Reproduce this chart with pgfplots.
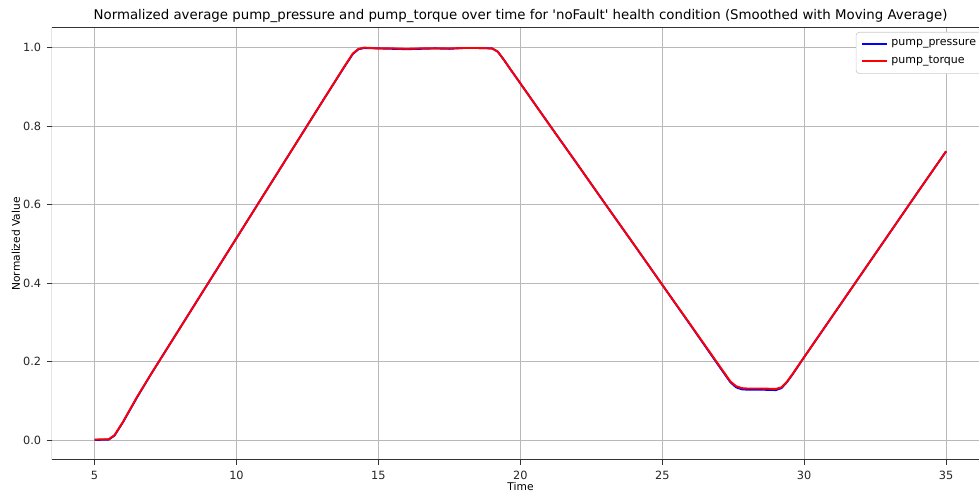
\documentclass[border=0pt]{standalone}
\usepackage{fontspec}
\setmainfont{DejaVu Sans}
\usepackage{pgfplots}
\pgfplotsset{compat=1.18}
\usepackage{pgfplotstable}

% t, pump_pressure, pump_torque (normalized, smoothed)
\pgfplotstableread{
t     pres   torq
5.0   0.001  0.002
5.5   0.002  0.003
5.7   0.012  0.013
6.0   0.046  0.047
6.5   0.110  0.111
7.0   0.170  0.170
8.0   0.285  0.285
9.0   0.400  0.400
10.0  0.515  0.515
11.0  0.630  0.630
12.0  0.745  0.745
13.0  0.860  0.860
13.8  0.951  0.952
14.1  0.984  0.985
14.3  0.996  0.997
14.5  0.999  1.000
15.0  0.998  0.998
15.5  0.997  0.998
16.0  0.996  0.997
16.5  0.997  0.998
17.0  0.998  0.998
17.5  0.997  0.998
18.0  0.999  0.999
18.5  0.999  0.999
19.0  0.998  0.998
19.2  0.990  0.990
19.4  0.971  0.971
19.6  0.950  0.950
20.0  0.909  0.909
21.0  0.806  0.806
22.0  0.704  0.704
23.0  0.601  0.601
24.0  0.499  0.499
25.0  0.396  0.396
26.0  0.293  0.294
27.0  0.189  0.191
27.4  0.148  0.150
27.6  0.135  0.138
27.8  0.130  0.133
28.0  0.129  0.132
28.5  0.129  0.132
29.0  0.128  0.131
29.2  0.133  0.135
29.4  0.149  0.150
29.6  0.169  0.170
30.0  0.212  0.212
31.0  0.317  0.317
32.0  0.422  0.422
33.0  0.527  0.527
34.0  0.632  0.632
35.0  0.736  0.736
}\pumpdata

\begin{document}
\begin{tikzpicture}
\useasboundingbox (-31.2pt,-19.8pt) rectangle (556.2pt,276pt);
\begin{axis}[
  at={(0pt,0pt)}, anchor=south west,
  scale only axis,
  width=556.2pt, height=259.2pt,
  xmin=3.5, xmax=36.16,
  ymin=-0.05, ymax=1.05,
  xtick={5,10,15,20,25,30,35},
  ytick={0,0.2,0.4,0.6,0.8,1.0},
  yticklabel style={/pgf/number format/.cd, fixed, fixed zerofill, precision=1},
  /pgf/number format/assume math mode=true,
  tick label style={font=\fontsize{6.8}{8}\selectfont, text=black!85},
  tick align=outside,
  tick pos=left,
  major tick length=3pt,
  tick style={black!80, line width=0.5pt},
  axis line style={draw=none},
  grid=major,
  grid style={black!28, line width=0.5pt},
  title={Normalized average pump\_pressure and pump\_torque over time for \textquotesingle noFault\textquotesingle\ health condition (Smoothed with Moving Average)},
  title style={font=\fontsize{8}{9.5}\selectfont, xshift=3pt, yshift=-6.5pt},
  xlabel={Time},
  xlabel style={font=\fontsize{6.4}{8}\selectfont, xshift=3pt, yshift=5pt},
  ylabel={Normalized Value},
  ylabel style={font=\fontsize{6.4}{8}\selectfont, yshift=-5pt},
  legend style={at={(rel axis cs:0.867,0.991)}, anchor=north west,
    font=\fontsize{6.6}{8}\selectfont, draw=black!20, fill=white,
    rounded corners=2pt, inner xsep=3pt, inner ysep=2.5pt,
    row sep=0.5pt},
  legend cell align=left,
  legend image code/.code={\draw[#1] (0pt,0pt) -- (15pt,0pt);},
]
\addplot[blue, line width=1.15pt] table[x=t, y=pres] {\pumpdata};
\addplot[red, line width=1.15pt] table[x=t, y=torq] {\pumpdata};
\legend{pump\_pressure, pump\_torque}
\draw[black!80, line width=0.6pt] (rel axis cs:1,1) -- (rel axis cs:0,1) -- (rel axis cs:0,0) -- (rel axis cs:1,0);
\end{axis}
\end{tikzpicture}
\end{document}
